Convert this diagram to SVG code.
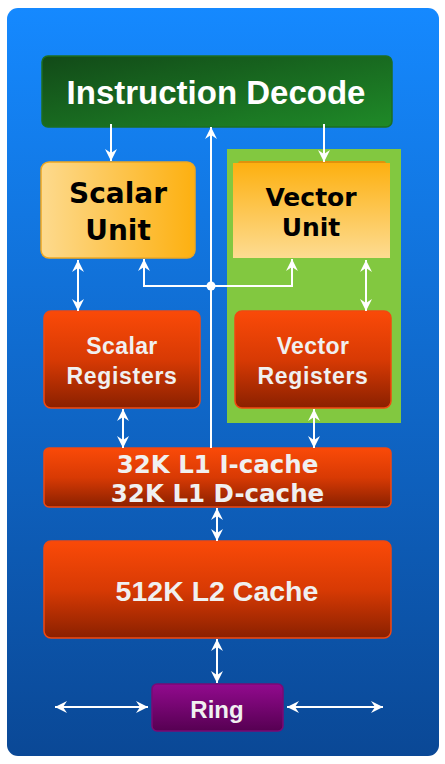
<svg xmlns="http://www.w3.org/2000/svg" width="445" height="764" viewBox="0 0 445 764">
<defs>
<linearGradient id="bg" x1="0" y1="0" x2="0" y2="1">
<stop offset="0" stop-color="#1589FF"/>
<stop offset="1" stop-color="#0A4896"/>
</linearGradient>
<linearGradient id="green" x1="0" y1="0" x2="1" y2="1">
<stop offset="0" stop-color="#124A18"/>
<stop offset="1" stop-color="#1F8A28"/>
</linearGradient>
<linearGradient id="scalarU" x1="0" y1="0" x2="1" y2="0">
<stop offset="0" stop-color="#FDDA8E"/>
<stop offset="1" stop-color="#FDB010"/>
</linearGradient>
<linearGradient id="vectorU" x1="0" y1="0" x2="0" y2="1">
<stop offset="0" stop-color="#FDB010"/>
<stop offset="1" stop-color="#FDDC92"/>
</linearGradient>
<linearGradient id="red" x1="0" y1="0" x2="0" y2="1">
<stop offset="0" stop-color="#FA4A08"/>
<stop offset="0.5" stop-color="#D83A04"/>
<stop offset="1" stop-color="#8A2000"/>
</linearGradient>
<linearGradient id="purple" x1="0" y1="0" x2="0" y2="1">
<stop offset="0" stop-color="#920A8E"/>
<stop offset="1" stop-color="#560052"/>
</linearGradient>
<marker id="ah" markerUnits="userSpaceOnUse" markerWidth="16" markerHeight="14" viewBox="-13 -7 16 14" refX="0" refY="0" orient="auto-start-reverse">
<path d="M0,0 L-12,-6 L-8,0 L-12,6 Z" fill="#FFFFFF"/>
</marker>
</defs>
<style>
.box{stroke-width:1.5}
.red{fill:url(#red);stroke:#F24810}
.wl{font-family:"Liberation Sans",Arial,sans-serif;font-weight:bold;fill:#F0F0F0;text-anchor:middle}
.bl{font-family:"DejaVu Sans",Verdana,sans-serif;font-weight:bold;fill:#000000;text-anchor:middle}
.dv{font-family:"DejaVu Sans",Verdana,sans-serif;font-weight:bold;fill:#F0F0F0;text-anchor:middle}
.ln{fill:none;stroke:#FFFFFF;stroke-width:2}
.ar{marker-end:url(#ah)}
.dbl{marker-start:url(#ah);marker-end:url(#ah)}
</style>
<rect x="7" y="8" width="432" height="748" rx="11" fill="url(#bg)"/>
<rect x="227" y="149" width="174" height="274" fill="#82C840"/>

<g id="instruction-decode">
<rect x="42" y="56" width="350" height="71" rx="6" fill="url(#green)" stroke="#1C6E22" class="box"/>
<text x="216" y="104" class="wl" font-size="33" style="fill:#FFFFFF">Instruction Decode</text>
</g>

<g id="scalar-unit">
<rect x="41" y="162" width="154" height="96" rx="8" fill="url(#scalarU)" stroke="#F0A820" class="box"/>
<text x="118" y="203" class="bl" font-size="28">Scalar</text>
<text x="118" y="240" class="bl" font-size="28">Unit</text>
</g>

<g id="vector-unit">
<rect x="238" y="161" width="148" height="5" rx="2.5" fill="#E0920C"/>
<rect x="233" y="163" width="157" height="95" fill="url(#vectorU)"/>
<text x="311" y="206" class="bl" font-size="25">Vector</text>
<text x="311" y="236" class="bl" font-size="25">Unit</text>
</g>

<g id="scalar-registers">
<rect x="44" y="311" width="156" height="97" rx="7" class="box red"/>
<text x="122" y="354" class="wl" font-size="23" letter-spacing="0.4">Scalar</text>
<text x="122" y="384" class="wl" font-size="23" letter-spacing="0.7">Registers</text>
</g>

<g id="vector-registers">
<rect x="235" y="311" width="156" height="97" rx="7" class="box red"/>
<text x="313" y="354" class="wl" font-size="23" letter-spacing="0.4">Vector</text>
<text x="313" y="384" class="wl" font-size="23" letter-spacing="0.7">Registers</text>
</g>

<g id="l1-cache">
<rect x="44" y="448" width="347" height="59" rx="5" class="box red"/>
<text x="217.5" y="473" class="dv" font-size="24.5">32K L1 I-cache</text>
<text x="217.5" y="502" class="dv" font-size="24.5">32K L1 D-cache</text>
</g>

<g id="l2-cache">
<rect x="44" y="541" width="347" height="97" rx="7" class="box red"/>
<text x="217" y="601" class="wl" font-size="28.5">512K L2 Cache</text>
</g>

<g id="ring">
<rect x="152" y="684" width="131" height="47" rx="5" fill="url(#purple)" stroke="#7A0A76" class="box"/>
<text x="217" y="718" class="wl" font-size="24">Ring</text>
</g>

<g id="connectors">
<path class="ln ar" d="M111,124 L111,161"/>
<path class="ln ar" d="M324,124 L324,162"/>
<path class="ln ar" d="M211,448 L211,127"/>
<path class="ln ar" d="M211,286 H144 V259"/>
<path class="ln ar" d="M211,286 H292 V259"/>
<circle cx="211" cy="286" r="4.5" fill="#FFFFFF"/>
<path class="ln dbl" d="M78,260 L78,311"/>
<path class="ln dbl" d="M366,260 L366,311"/>
<path class="ln dbl" d="M123,409 L123,448"/>
<path class="ln dbl" d="M314,409 L314,448"/>
<path class="ln dbl" d="M217,508 L217,541"/>
<path class="ln dbl" d="M217,639 L217,683"/>
<path class="ln dbl" d="M55,707 L148,707"/>
<path class="ln dbl" d="M287,707 L383,707"/>
</g>
</svg>
